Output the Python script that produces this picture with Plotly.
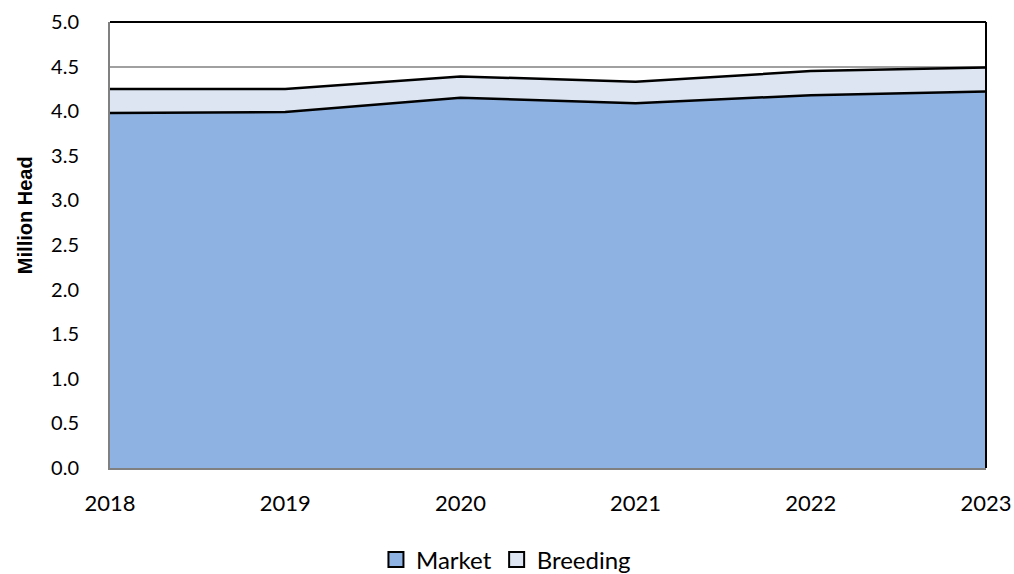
import plotly.graph_objects as go

years = [2018, 2019, 2020, 2021, 2022, 2023]
market = [3.98, 3.99, 4.15, 4.09, 4.18, 4.22]
breeding = [0.27, 0.26, 0.24, 0.24, 0.27, 0.27]
y_ticks = [0.0, 0.5, 1.0, 1.5, 2.0, 2.5, 3.0, 3.5, 4.0, 4.5, 5.0]
series_names = ["Market", "Breeding"]
series_colors = ["#8EB2E2", "#DCE5F1"]

fig = go.Figure()
for name, vals, col in zip(series_names, [market, breeding], series_colors):
    fig.add_trace(go.Scatter(
        x=years, y=vals, name=name, stackgroup="one", mode="lines",
        line=dict(color="black", width=2.5), fillcolor=col, showlegend=False,
    ))
# legend-only entries with square swatches
for name, col in zip(series_names, series_colors):
    fig.add_trace(go.Scatter(
        x=[None], y=[None], name=name, mode="markers",
        marker=dict(symbol="square", size=15, color=col, line=dict(color="black", width=2)),
    ))

xtick_font = dict(family="Lato, Carlito, Calibri, sans-serif", size=22, color="black")
ytick_font = dict(family="Lato, Carlito, Calibri, sans-serif", size=20, color="black")
legend_font = dict(family="Lato, Carlito, Calibri, sans-serif", size=24, color="black")

fig.update_layout(
    width=1014, height=574,
    margin=dict(l=110, r=28, t=22, b=106, autoexpand=False),
    paper_bgcolor="white", plot_bgcolor="white",
    showlegend=True,
    legend=dict(orientation="h", x=0.452, xanchor="center", y=-0.206, yanchor="middle",
                font=legend_font, itemwidth=30, traceorder="normal", itemclick=False),
    xaxis=dict(range=[2018, 2023], tickvals=years, ticktext=[str(y) for y in years],
               tickfont=xtick_font, showgrid=False, zeroline=False, automargin=False,
               showline=True, linecolor="#808080", linewidth=2,
               ticks="outside", ticklen=0, ticklabelstandoff=15),
    yaxis=dict(range=[0, 5], tickvals=y_ticks, ticktext=[f"{v:.1f}" for v in y_ticks],
               tickfont=ytick_font, showgrid=True, gridcolor="#A0A0A0", gridwidth=1.5,
               zeroline=False, showline=True, linecolor="#808080", linewidth=2,
               ticks="outside", ticklen=0, ticklabelstandoff=25, automargin=False),
    annotations=[dict(text="<b>Million Head</b>", xref="paper", yref="paper",
                      x=-0.097, y=0.567, xanchor="center", yanchor="middle",
                      textangle=-90, showarrow=False,
                      font=dict(family="Liberation Sans, Arial, sans-serif", size=20, color="black"))],
    shapes=[
        dict(type="line", xref="paper", yref="paper", x0=0, x1=1, y0=1, y1=1,
             line=dict(color="black", width=2)),
        dict(type="line", xref="paper", yref="paper", x0=1, x1=1, y0=0, y1=1,
             line=dict(color="black", width=2)),
    ],
)

fig.write_html("out.html", config={"displayModeBar": False},
               post_script="document.body.style.margin='0';")
